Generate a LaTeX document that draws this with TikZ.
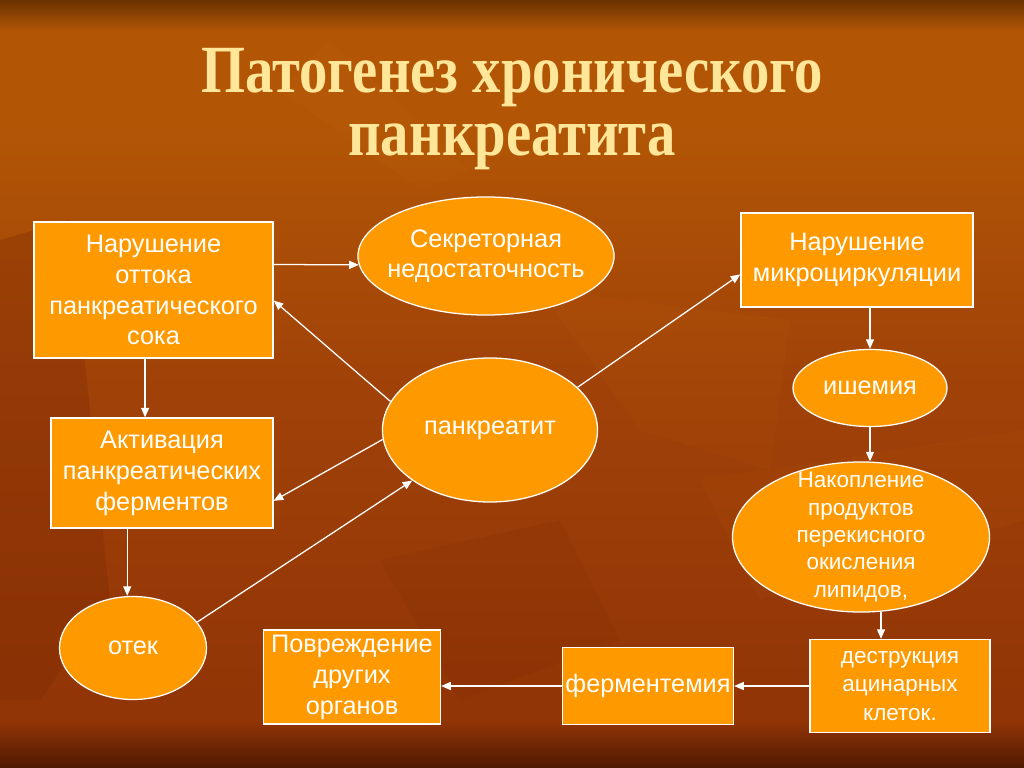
\documentclass[tikz,border=0pt]{standalone}
\usepackage{fontspec}
\setmainfont{Liberation Sans}
\newfontfamily\titlefont{Liberation Serif}
\usetikzlibrary{shapes.geometric,arrows.meta}

\definecolor{boxorange}{RGB}{255,153,0}
\definecolor{titleyellow}{RGB}{255,230,153}
\definecolor{bgtop}{RGB}{105,50,0}
\definecolor{bgupper}{RGB}{178,86,6}
\definecolor{bgmid}{RGB}{160,66,8}
\definecolor{bglow}{RGB}{145,52,6}
\definecolor{bgbottom}{RGB}{80,25,3}
\definecolor{leaflight}{RGB}{205,110,20}
\definecolor{leafdark}{RGB}{120,40,5}

\pgfdeclareverticalshading{slidebg}{100bp}{color(0bp)=(bgbottom); color(25bp)=(bgbottom);
  color(28bp)=(bglow); color(50bp)=(bgmid); color(67bp)=(bgupper); color(73bp)=(bgupper);
  color(75bp)=(bgtop); color(100bp)=(bgtop)}

\tikzset{
  box/.style={draw=white, line width=0.9pt, fill=boxorange, text=white, align=center,
    inner sep=2pt, font=\fontsize{18}{22}\selectfont},
  oval/.style={ellipse, draw=white, line width=0.9pt, fill=boxorange, inner sep=0pt},
  inner/.style={text=white, align=center, font=\fontsize{18}{21}\selectfont},
  arr/.style={draw=white, line width=0.9pt, -{Triangle[length=2.4mm,width=2mm]}},
  heading/.style={text=titleyellow, font=\titlefont\bfseries\fontsize{48}{44}\selectfont}
}

\begin{document}
\begin{tikzpicture}[x=0.025cm, y=-0.025cm]
  \useasboundingbox (0,0) rectangle (1024,768);

  % Slide background
  \shade[shading=slidebg] (0,0) rectangle (1024,768);
  \fill[leafdark, opacity=0.3] (0,240) -- (70,220) -- (110,600) -- (40,700) -- (0,700) -- cycle;
  \fill[leaflight, opacity=0.08] (540,290) -- (790,320) -- (770,470) -- (640,430) -- cycle;
  \fill[leaflight, opacity=0.08] (330,40) -- (470,170) -- (420,190) -- (280,90) -- cycle;
  \fill[leaflight, opacity=0.07] (700,480) -- (1024,430) -- (1024,520) -- (760,600) -- cycle;
  \fill[leafdark, opacity=0.15] (380,560) -- (560,520) -- (620,640) -- (460,700) -- cycle;

  % Title
  \node[heading, anchor=base] (title1) at (512,93) {\scalebox{0.84}[1]{Патогенез хронического}};
  \node[heading, anchor=base] (title2) at (512,155) {\scalebox{0.84}[1]{панкреатита}};

  % Boxes
  \node[box, minimum width=5.975cm, minimum height=3.4cm] (box1) at (153.5,290)
    {Нарушение\\оттока\\панкреатического\\сока};
  \node[box, minimum width=5.55cm, minimum height=2.75cm] (box2) at (162,473)
    {Активация\\панкреатических\\ферментов};
  \node[box, minimum width=5.8cm, minimum height=2.35cm] (micro) at (857,260)
    {Нарушение\\микроциркуляции};
  \node[box, minimum width=4.5cm, minimum height=2.325cm,
    font=\fontsize{16}{20}\selectfont] (destr) at (900,686)
    {деструкция\\ацинарных\\клеток.};
  \node[box, minimum width=4.275cm, minimum height=1.925cm] (ferm) at (648,686) {ферментемия};
  \node[box, minimum width=4.425cm, minimum height=2.35cm] (povr) at (352,677)
    {Повреждение\\других\\органов};

  % Ellipses
  \node[oval, minimum width=6.4cm, minimum height=2.95cm,
    label={[inner, name=sekrtext]center:Секреторная\\недостаточность}] (sekr) at (486,256) {};
  \node[oval, minimum width=5.375cm, minimum height=3.6cm,
    label={[inner, name=panctext]center:панкреатит}] (panc) at (490,430) {};
  \node[oval, minimum width=3.85cm, minimum height=1.925cm,
    label={[inner, name=ischtext]center:ишемия}] (isch) at (870,388) {};
  \node[oval, minimum width=6.425cm, minimum height=3.75cm,
    label={[inner, name=naktext, font=\fontsize{16}{19.5}\selectfont]center:Накопление\\продуктов\\перекисного\\окисления\\липидов,}] (nak) at (861,537) {};
  \node[oval, minimum width=3.675cm, minimum height=2.575cm,
    label={[inner, name=otektext]center:отек}] (otek) at (133,648) {};

  % Slanted and horizontal arrows
  \foreach \from/\to in {box1.12/sekr.184, panc.164/box1.355, panc.185/box2.346,
    otek.22/panc.213, panc.26/micro.187, destr.west/ferm.east} {
    \draw[arr] (\from) -- (\to);
  }

  % Vertical arrows
  \draw[arr] (box1.263) -- (box1.263 |- box2.north);
  \draw[arr] (box2.238) -- (box2.238 |- otek.north);
  \draw[arr] (micro.south -| isch.north) -- (isch.north);
  \draw[arr] (isch.south) -- (isch.south |- nak.north);
  \draw[arr] (nak.285) -- (nak.285 |- destr.north);
  \draw[arr] (ferm.west) -- (ferm.west -| povr.east);
\end{tikzpicture}
\end{document}
